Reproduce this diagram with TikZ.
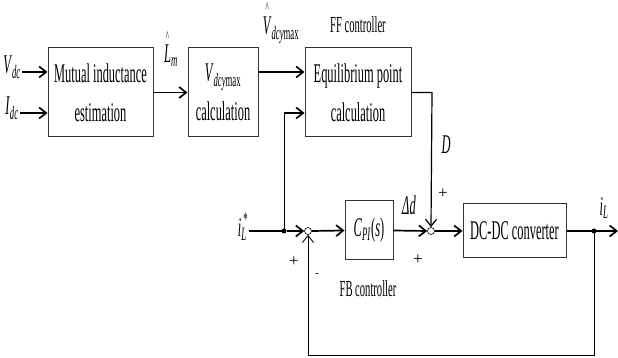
\documentclass[tikz,border=0pt]{standalone}
\usepackage{fontspec}
\setmainfont[FakeStretch=0.46]{Liberation Serif}
\newfontfamily\signfont{Liberation Serif}
\usetikzlibrary{arrows.meta}
\newcommand{\hatted}[1]{\ooalign{#1\cr\hidewidth\raisebox{0.8em}{\fontsize{15}{15}\selectfont\textasciicircum}\hidewidth\cr}}
\begin{document}
\begin{tikzpicture}[x=1pt, y=1pt, >={Straight Barb[length=7pt,width=11pt]},
  blk/.style={draw=black!80, line width=1pt, minimum height=89pt, align=center, inner sep=0pt, font=\fontsize{27}{39}\selectfont},
  sig/.style={line width=1.7pt},
  wire/.style={line width=0.9pt},
  sumj/.style={circle, draw, line width=0.6pt, inner sep=0pt, minimum size=7pt, fill=white},
  dotj/.style={circle, fill, inner sep=0pt, minimum size=5pt},
  lbl/.style={font=\fontsize{27}{27}\selectfont, inner sep=1pt},
  sml/.style={font=\fontsize{23}{23}\selectfont, inner sep=1pt},
  sgn/.style={font=\signfont\fontsize{17}{17}\selectfont, inner sep=1pt}]
\useasboundingbox (0,0) rectangle (618,358);
% blocks
\node[blk, minimum width=105pt] (mie) at (100.5,265.5) {Mutual inductance\\estimation};
\node[blk, minimum width=70pt] (vcalc) at (223,265.5) {\textit{V}\textsubscript{\textit{dcy}max}\\calculation};
\node[blk, minimum width=106pt] (epc) at (358,265.5) {Equilibrium point\\calculation};
\node[blk, minimum width=48pt, minimum height=59pt] (cpi) at (369,127.5) {\textit{C}\textsubscript{\textit{PI}}(\textit{s})};
\node[blk, minimum width=103pt, minimum height=54pt] (dcdc) at (514.5,127) {DC-DC converter};
\node[sumj] (s1) at (308,127) {};
\node[sumj] (s2) at (431,127) {};
\node[dotj] (d1) at (284,127) {};
\node[dotj] (d2) at (594,127) {};
% labels
\node[lbl] (vdc) at (12,291) {\textit{V}\textsubscript{\textit{dc}}};
\node[lbl] (idc) at (12,250) {\textit{I}\textsubscript{\textit{dc}}};
\node[lbl] (lm) at (171,302) {\hatted{\textit{L}}\textsubscript{\textit{m}}};
\node[lbl] (vmax) at (281,328) {\hatted{\textit{V}}\textsubscript{\textit{dcy}max}};
\node[sml] (ff) at (358,333) {FF controller};
\node[sml] (fb) at (368,69) {FB controller};
\node[lbl] (ilref) at (243,131) {\textit{i}\rlap{\textsubscript{\textit{L}}}\kern2pt\raisebox{2pt}{\textsuperscript{*}}};
\node[lbl] (D) at (446,213) {\textit{D}};
\node[lbl] (dd) at (409,153) {\textit{Δd}};
\node[lbl] (il) at (604,150) {\textit{i}\textsubscript{\textit{L}}};
\node[sgn] (p1) at (294,96) {+};
\node[sgn, font=\signfont\fontsize{11}{11}\selectfont] (m1) at (317,83) {-};
\node[sgn] (p2) at (443,164) {+};
\node[sgn] (p3) at (418,98) {+};
\coordinate (c1) at (284,245);
\coordinate (c2) at (432,265.5);
\coordinate (out) at (618,127);
\coordinate (bot) at (594,3);
% connectors
\draw[sig,->] ([yshift=-5pt]vdc.east) -- ([yshift=-5pt]vdc.east -| mie.west);
\draw[sig,->] ([yshift=-5pt]idc.east) -- ([yshift=-5pt]idc.east -| mie.west);
\draw[sig,->] (mie.east) -- (vcalc.west);
\draw[sig,->] ([yshift=20.5pt]vcalc.east) -- ([yshift=20.5pt]epc.west);
\draw[sig] (ilref.east |- d1) -- (d1.center);
\draw[sig,->] (d1) -- (s1.west);
\draw[wire] (d1.center) -- (c1);
\draw[sig,->] (c1) -- (c1 -| epc.west);
\draw[line width=1.2pt,->] (epc.east) -- (c2) -- (s2.north);
\draw[sig,->] (s1.east) -- (cpi.west);
\draw[sig,->] (cpi.east) -- (s2.west);
\draw[sig,->] (s2.east) -- (dcdc.west);
\draw[sig] (dcdc.east) -- (d2.center);
\draw[sig,->] (d2.center) -- (out);
\draw[wire,->] (d2.center) -- (bot) -| (s1.south);
\end{tikzpicture}
\end{document}
